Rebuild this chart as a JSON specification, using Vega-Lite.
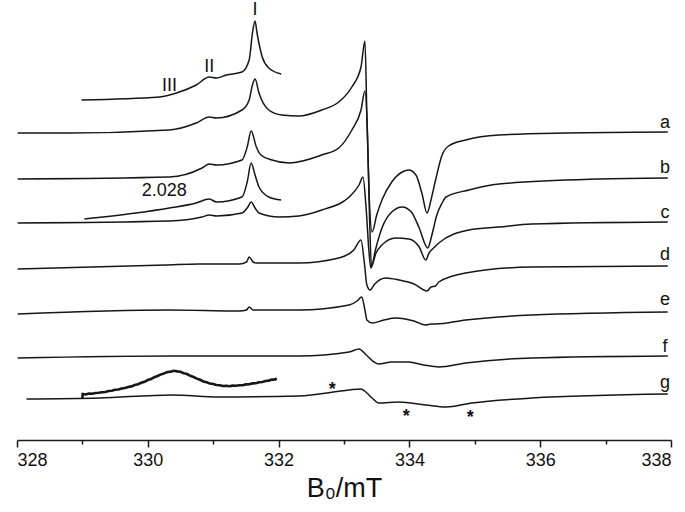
{
"$schema": "https://vega.github.io/schema/vega-lite/v6.json",
"width": 654, "height": 440,
"autosize": {"type": "none"},
"padding": {"left": 17, "top": 0, "right": 14, "bottom": 72},
"background": "white",
"config": {"view": {"stroke": null}, "font": "Liberation Sans"},
"datasets": {
"traces": [
{"s":"i1","B":328.985,"v":346},{"s":"i1","B":330.18,"v":349},{"s":"i1","B":330.33,"v":351},{"s":"i1","B":330.44,"v":353},{"s":"i1","B":330.74,"v":361},{"s":"i1","B":330.94,"v":369},{"s":"i1","B":331.05,"v":368},{"s":"i1","B":331.2,"v":371},{"s":"i1","B":331.44,"v":374},{"s":"i1","B":331.55,"v":386},{"s":"i1","B":331.6,"v":413},{"s":"i1","B":331.64,"v":425},{"s":"i1","B":331.67,"v":413},{"s":"i1","B":331.75,"v":389},{"s":"i1","B":331.85,"v":378},{"s":"i1","B":332.04,"v":372},
{"s":"a","B":328.01,"v":313},{"s":"a","B":328.8,"v":313},{"s":"a","B":330.33,"v":316},{"s":"a","B":330.74,"v":323},{"s":"a","B":330.94,"v":329},{"s":"a","B":331.05,"v":328},{"s":"a","B":331.44,"v":336},{"s":"a","B":331.55,"v":346},{"s":"a","B":331.6,"v":361},{"s":"a","B":331.64,"v":367},{"s":"a","B":331.7,"v":353},{"s":"a","B":331.85,"v":336},{"s":"a","B":332.05,"v":331},{"s":"a","B":332.31,"v":330},{"s":"a","B":332.66,"v":336},{"s":"a","B":332.92,"v":344},{"s":"a","B":333.12,"v":359},{"s":"a","B":333.26,"v":379},{"s":"a","B":333.32,"v":405},{"s":"a","B":333.35,"v":330},{"s":"a","B":333.385,"v":250},{"s":"a","B":333.43,"v":214},{"s":"a","B":333.5,"v":231},{"s":"a","B":333.58,"v":246},{"s":"a","B":333.73,"v":264},{"s":"a","B":333.89,"v":274},{"s":"a","B":333.99,"v":276},{"s":"a","B":334.1,"v":271},{"s":"a","B":334.19,"v":253},{"s":"a","B":334.27,"v":233},{"s":"a","B":334.33,"v":246},{"s":"a","B":334.4,"v":266},{"s":"a","B":334.5,"v":291},{"s":"a","B":334.6,"v":300},{"s":"a","B":334.86,"v":306},{"s":"a","B":335.37,"v":311},{"s":"a","B":336.39,"v":313},{"s":"a","B":337.95,"v":314},
{"s":"b","B":328.01,"v":267},{"s":"b","B":330.33,"v":269},{"s":"b","B":330.83,"v":278},{"s":"b","B":330.94,"v":282},{"s":"b","B":331.05,"v":281},{"s":"b","B":331.44,"v":286},{"s":"b","B":331.52,"v":299},{"s":"b","B":331.58,"v":315},{"s":"b","B":331.66,"v":299},{"s":"b","B":331.73,"v":291},{"s":"b","B":331.9,"v":286},{"s":"b","B":332.16,"v":283},{"s":"b","B":332.66,"v":291},{"s":"b","B":332.92,"v":298},{"s":"b","B":333.12,"v":316},{"s":"b","B":333.26,"v":336},{"s":"b","B":333.32,"v":355},{"s":"b","B":333.36,"v":310},{"s":"b","B":333.39,"v":230},{"s":"b","B":333.42,"v":180},{"s":"b","B":333.48,"v":196},{"s":"b","B":333.58,"v":218},{"s":"b","B":333.73,"v":234},{"s":"b","B":333.89,"v":239},{"s":"b","B":334.03,"v":234},{"s":"b","B":334.15,"v":218},{"s":"b","B":334.28,"v":198},{"s":"b","B":334.34,"v":210},{"s":"b","B":334.37,"v":218},{"s":"b","B":334.41,"v":229},{"s":"b","B":334.5,"v":243},{"s":"b","B":334.56,"v":249},{"s":"b","B":334.91,"v":256},{"s":"b","B":335.37,"v":262},{"s":"b","B":336.89,"v":267},{"s":"b","B":337.95,"v":268},
{"s":"i2","B":329.03,"v":227},{"s":"i2","B":329.82,"v":233},{"s":"i2","B":330.33,"v":238},{"s":"i2","B":330.74,"v":243},{"s":"i2","B":330.94,"v":247},{"s":"i2","B":331.05,"v":244},{"s":"i2","B":331.44,"v":249},{"s":"i2","B":331.52,"v":264},{"s":"i2","B":331.58,"v":283},{"s":"i2","B":331.64,"v":271},{"s":"i2","B":331.7,"v":259},{"s":"i2","B":331.85,"v":249},{"s":"i2","B":332.04,"v":246},
{"s":"c","B":328.01,"v":223},{"s":"c","B":330.33,"v":225},{"s":"c","B":330.83,"v":229},{"s":"c","B":330.94,"v":231},{"s":"c","B":331.05,"v":230},{"s":"c","B":331.44,"v":233},{"s":"c","B":331.53,"v":239},{"s":"c","B":331.58,"v":244},{"s":"c","B":331.64,"v":238},{"s":"c","B":331.7,"v":233},{"s":"c","B":332.01,"v":229},{"s":"c","B":332.31,"v":230},{"s":"c","B":332.66,"v":236},{"s":"c","B":333.08,"v":249},{"s":"c","B":333.23,"v":261},{"s":"c","B":333.29,"v":269},{"s":"c","B":333.34,"v":236},{"s":"c","B":333.38,"v":196},{"s":"c","B":333.41,"v":178},{"s":"c","B":333.49,"v":193},{"s":"c","B":333.58,"v":201},{"s":"c","B":333.79,"v":208},{"s":"c","B":333.99,"v":207},{"s":"c","B":334.15,"v":199},{"s":"c","B":334.25,"v":186},{"s":"c","B":334.3,"v":193},{"s":"c","B":334.37,"v":198},{"s":"c","B":334.45,"v":203},{"s":"c","B":334.91,"v":216},{"s":"c","B":335.37,"v":219},{"s":"c","B":335.87,"v":222},{"s":"c","B":337.95,"v":224},
{"s":"d","B":328.01,"v":177},{"s":"d","B":330.28,"v":181},{"s":"d","B":330.79,"v":182},{"s":"d","B":331.4,"v":182},{"s":"d","B":331.51,"v":184},{"s":"d","B":331.55,"v":189},{"s":"d","B":331.61,"v":184},{"s":"d","B":331.66,"v":183},{"s":"d","B":332.31,"v":183},{"s":"d","B":332.92,"v":188},{"s":"d","B":333.15,"v":196},{"s":"d","B":333.26,"v":206},{"s":"d","B":333.31,"v":184},{"s":"d","B":333.35,"v":161},{"s":"d","B":333.4,"v":156},{"s":"d","B":333.47,"v":162},{"s":"d","B":333.64,"v":168},{"s":"d","B":333.84,"v":166},{"s":"d","B":334.07,"v":162},{"s":"d","B":334.27,"v":155},{"s":"d","B":334.33,"v":159},{"s":"d","B":334.4,"v":160},{"s":"d","B":334.45,"v":164},{"s":"d","B":334.86,"v":173},{"s":"d","B":335.87,"v":179},{"s":"d","B":337.95,"v":180},
{"s":"e","B":328.01,"v":132},{"s":"e","B":330.33,"v":136},{"s":"e","B":331.4,"v":135},{"s":"e","B":331.51,"v":136},{"s":"e","B":331.55,"v":139},{"s":"e","B":331.61,"v":136},{"s":"e","B":332.31,"v":136},{"s":"e","B":333.08,"v":141},{"s":"e","B":333.2,"v":145},{"s":"e","B":333.27,"v":149},{"s":"e","B":333.32,"v":136},{"s":"e","B":333.35,"v":126},{"s":"e","B":333.43,"v":123},{"s":"e","B":333.61,"v":126},{"s":"e","B":333.79,"v":128},{"s":"e","B":334.07,"v":125},{"s":"e","B":334.25,"v":121},{"s":"e","B":334.33,"v":122},{"s":"e","B":334.4,"v":122},{"s":"e","B":334.86,"v":126},{"s":"e","B":335.87,"v":131},{"s":"e","B":337.95,"v":134},
{"s":"f","B":328.01,"v":88},{"s":"f","B":330.37,"v":90},{"s":"f","B":332.31,"v":90},{"s":"f","B":333.08,"v":94},{"s":"f","B":333.23,"v":97},{"s":"f","B":333.34,"v":91},{"s":"f","B":333.46,"v":84},{"s":"f","B":333.53,"v":82},{"s":"f","B":333.73,"v":84},{"s":"f","B":333.99,"v":84},{"s":"f","B":334.22,"v":81},{"s":"f","B":334.45,"v":79},{"s":"f","B":334.86,"v":83},{"s":"f","B":335.87,"v":88},{"s":"f","B":337.95,"v":90},
{"s":"g","B":328.145,"v":47},{"s":"g","B":329.26,"v":48},{"s":"g","B":330.37,"v":51},{"s":"g","B":331.09,"v":49},{"s":"g","B":332.31,"v":50},{"s":"g","B":333.08,"v":56},{"s":"g","B":333.26,"v":57},{"s":"g","B":333.35,"v":53},{"s":"g","B":333.43,"v":48},{"s":"g","B":333.53,"v":43},{"s":"g","B":333.84,"v":44},{"s":"g","B":334.25,"v":41},{"s":"g","B":334.56,"v":39},{"s":"g","B":334.95,"v":43},{"s":"g","B":335.87,"v":48},{"s":"g","B":337.95,"v":52}
],
"noisy": [
{"B":329.0,"v":48},{"B":329.005,"v":52},{"B":329.05,"v":51.5},{"B":329.1,"v":52.5},{"B":329.15,"v":52.2},{"B":329.2,"v":53},{"B":329.25,"v":53.2},{"B":329.3,"v":53.8},{"B":329.35,"v":54},{"B":329.4,"v":55},{"B":329.45,"v":55.2},{"B":329.5,"v":56.2},{"B":329.55,"v":56.5},{"B":329.6,"v":57.5},{"B":329.65,"v":58},{"B":329.7,"v":59},{"B":329.75,"v":59.6},{"B":329.8,"v":61},{"B":329.85,"v":61.8},{"B":329.9,"v":63.2},{"B":329.95,"v":64.2},{"B":330.0,"v":66},{"B":330.05,"v":67},{"B":330.1,"v":68.8},{"B":330.15,"v":70},{"B":330.2,"v":71.6},{"B":330.25,"v":72.6},{"B":330.3,"v":74},{"B":330.35,"v":74.4},{"B":330.4,"v":75.2},{"B":330.45,"v":74.6},{"B":330.5,"v":74.2},{"B":330.55,"v":72.8},{"B":330.6,"v":72},{"B":330.65,"v":70.2},{"B":330.7,"v":69},{"B":330.75,"v":67.4},{"B":330.8,"v":66.2},{"B":330.85,"v":64.6},{"B":330.9,"v":63.8},{"B":330.95,"v":62.4},{"B":331.0,"v":62},{"B":331.05,"v":61},{"B":331.1,"v":60.8},{"B":331.15,"v":60},{"B":331.2,"v":60.2},{"B":331.25,"v":59.8},{"B":331.3,"v":60.4},{"B":331.35,"v":60.2},{"B":331.4,"v":60.8},{"B":331.45,"v":60.8},{"B":331.5,"v":61.6},{"B":331.55,"v":61.8},{"B":331.6,"v":62.6},{"B":331.65,"v":62.8},{"B":331.7,"v":63.8},{"B":331.75,"v":64},{"B":331.8,"v":65},{"B":331.85,"v":65.4},{"B":331.9,"v":66.4},{"B":331.95,"v":66.6},{"B":331.97,"v":67.6}
],
"labels": [
{"t":"a","B":337.91,"v":323},{"t":"b","B":337.91,"v":278},{"t":"c","B":337.91,"v":233},{"t":"d","B":337.91,"v":191},{"t":"e","B":337.91,"v":146},{"t":"f","B":337.91,"v":99},{"t":"g","B":337.91,"v":63},
{"t":"I","B":331.64,"v":436},{"t":"II","B":330.94,"v":379},{"t":"III","B":330.33,"v":360},{"t":"2.028","B":330.25,"v":255}
],
"stars": [
{"t":"*","B":332.82,"v":56},{"t":"*","B":333.95,"v":29},{"t":"*","B":334.93,"v":28}
]
},
"encoding": {
"x": {"field":"B","type":"quantitative",
 "scale":{"domain":[328,338],"nice":false,"zero":false},
 "axis":{"title":"B₀/mT","values":[328,329,330,331,332,333,334,335,336,337,338],
  "labelExpr":"datum.value % 2 == 0 ? datum.label : ''",
  "tickSize":{"condition":{"test":"datum.value % 2 == 0","value":7},"value":4},
  "domainColor":"#1a1a1a","domainWidth":1.5,"tickColor":"#1a1a1a","tickWidth":1.5,
  "labelFont":"Liberation Sans","labelFontSize":18,"labelColor":"#111","labelPadding":4,
  "titleFont":"Liberation Sans","titleFontSize":27,"titleFontWeight":"normal","titleColor":"#111","titlePadding":6,
  "grid":false}},
"y": {"field":"v","type":"quantitative","scale":{"domain":[6,446],"nice":false,"zero":false},"axis":null}
},
"layer": [
{"data":{"name":"traces"},"mark":{"type":"line","interpolate":"monotone","color":"#161616","strokeWidth":1.5},
 "encoding":{"detail":{"field":"s","type":"nominal"}}},
{"data":{"name":"noisy"},"mark":{"type":"line","interpolate":"linear","color":"#161616","strokeWidth":2.6},
 "encoding":{}},
{"data":{"name":"labels"},"mark":{"type":"text","font":"Liberation Sans","fontSize":18,"color":"#111","align":"center","baseline":"middle"},
 "encoding":{"text":{"field":"t"}}},
{"data":{"name":"stars"},"mark":{"type":"text","font":"Liberation Sans","fontSize":18,"fontWeight":"bold","color":"#111","align":"center","baseline":"middle"},
 "encoding":{"text":{"field":"t"}}}
]
}
